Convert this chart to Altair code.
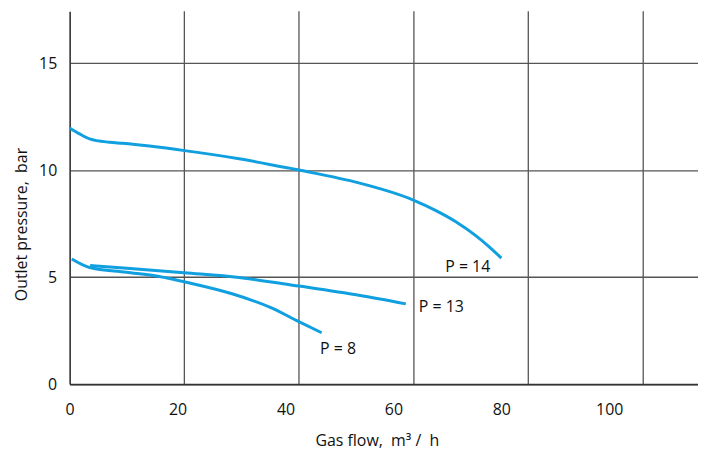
import altair as alt
import pandas as pd

# Curves (x: gas flow m3/h, y: outlet pressure bar)
x14 = [0, 1.85, 3.7, 7.4, 9.8, 21.3, 31.4, 40.7, 42.5, 53.6, 63.8, 67.8, 71.5, 75.2, 77.6, 80.0]
y14 = [11.97, 11.69, 11.46, 11.30, 11.25, 10.91, 10.53, 10.09, 10.0, 9.40, 8.59, 8.12, 7.60, 6.95, 6.45, 5.89]

x13 = [3.8, 10.0, 21.3, 31.4, 42.5, 53.6, 62.3]
y13 = [5.54, 5.43, 5.20, 4.98, 4.58, 4.15, 3.75]

x8 = [0.4, 3.7, 10.5, 16.6, 21.8, 30.1, 37.5, 42.0, 46.7]
y8 = [5.85, 5.45, 5.23, 5.03, 4.75, 4.22, 3.55, 2.98, 2.40]

series_names = ["P = 14", "P = 13", "P = 8"]

label_text = ["P = 14", "P = 13", "P = 8"]
label_x = [69.6, 64.7, 46.4]
label_y = [5.25, 3.37, 1.43]

x_ticks = [0, 20, 40, 60, 80, 100]
y_ticks = [0, 5, 10, 15]
grid_x = [21.26, 42.5, 63.8, 85.0, 106.3]

X_MAX = 116.45
Y_MAX = 17.42

rows = []
for name, xs, ys in zip(series_names, [x14, x13, x8], [y14, y13, y8]):
    for i, (a, b) in enumerate(zip(xs, ys)):
        rows.append({"series": name, "x": a, "y": b, "i": i})
df = pd.DataFrame(rows)
labels = pd.DataFrame({"text": label_text, "x": label_x, "y": label_y})
grid = pd.DataFrame({"x": grid_x})

FONT = "Open Sans"
NB = "\u00a0"
xscale = alt.Scale(domain=[0, X_MAX], nice=False, zero=False)
yscale = alt.Scale(domain=[0, Y_MAX], nice=False, zero=False)

xaxis = alt.Axis(
    values=x_ticks, grid=False, ticks=False, labelPadding=18, labelFlush=False,
    title=f"Gas flow,{NB}{NB}m³{NB}/{NB}{NB}h", titleX=309, titleY=62,
    titleBaseline="alphabetic", titleAlign="center",
)
yaxis = alt.Axis(
    values=y_ticks, grid=True, ticks=False, labelPadding=13,
    title=f"Outlet pressure,{NB}{NB}bar", titleX=-43, titleY=214, titleAngle=-90,
    titleAlign="center", titleBaseline="alphabetic",
)

gridlayer = alt.Chart(grid).mark_rule(color="#555555", strokeWidth=1.3).encode(
    x=alt.X("x:Q", scale=xscale, axis=xaxis),
)

lines = alt.Chart(df).mark_line(color="#109fdf", strokeWidth=3, interpolate="monotone").encode(
    x=alt.X("x:Q", scale=xscale, axis=xaxis),
    y=alt.Y("y:Q", scale=yscale, axis=yaxis),
    detail="series:N",
    order="i:Q",
)

text = alt.Chart(labels).mark_text(
    align="left", baseline="alphabetic", font=FONT, fontSize=16, color="#111111"
).encode(
    x=alt.X("x:Q", scale=xscale),
    y=alt.Y("y:Q", scale=yscale),
    text="text:N",
)

chart = alt.layer(gridlayer, lines, text).properties(
    width=632, height=375,
    autosize=alt.AutoSizeParams(type="none"),
    padding={"left": 62, "top": 2, "right": 0, "bottom": 70},
).configure_view(stroke=None).configure_axis(
    labelFont=FONT, labelFontSize=16, labelColor="#111111",
    titleFont=FONT, titleFontSize=16, titleFontWeight="normal", titleColor="#111111",
    domainColor="#333333", domainWidth=1.6,
    gridColor="#555555", gridWidth=1.3, gridOpacity=1,
)

chart.save("out.html", embed_options={"renderer": "svg", "actions": False})
